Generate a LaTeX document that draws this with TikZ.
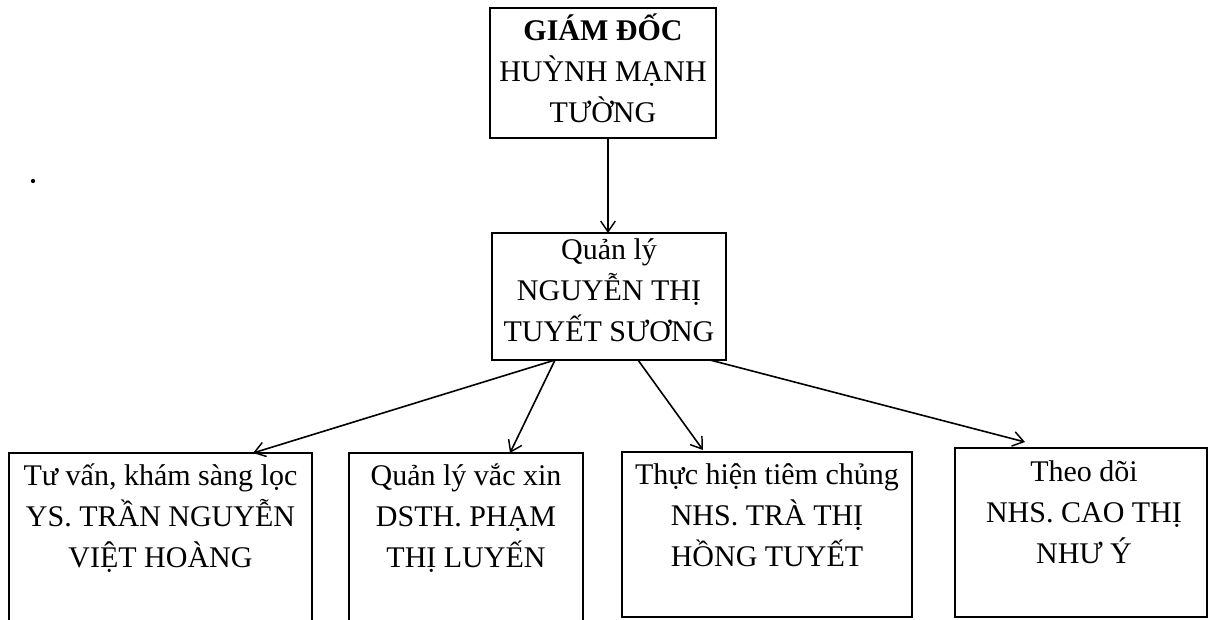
\documentclass[tikz,border=0pt]{standalone}
\usepackage{fontspec}
\setmainfont{Liberation Serif}
\usetikzlibrary{arrows.meta}
\tikzset{
  box/.style={draw=black, line width=1.5pt, rectangle, inner sep=0pt, outer sep=0pt, anchor=north west},
  txt/.style={align=center, inner sep=0pt, anchor=base, font=\fontsize{22.5pt}{30.75pt}\selectfont},
  conn/.style={draw=black, line width=1.2pt, -{Straight Barb[length=8pt,width=11pt,line width=1.1pt]}}
}
\begin{document}
\begin{tikzpicture}[x=0.75pt,y=-0.75pt]
\useasboundingbox (0,0) rectangle (1208,619);
% boxes
\node[box, minimum width={226*0.75pt}, minimum height={130*0.75pt}] (gd) at (490,8) {};
\node[box, minimum width={234*0.75pt}, minimum height={127*0.75pt}] (ql) at (492,233) {};
\node[box, minimum width={303*0.75pt}, minimum height={200*0.75pt}] (a) at (9,453) {};
\node[box, minimum width={234*0.75pt}, minimum height={200*0.75pt}] (b) at (349,453) {};
\node[box, minimum width={290*0.75pt}, minimum height={165*0.75pt}] (c) at (622,452) {};
\node[box, minimum width={252*0.75pt}, minimum height={169*0.75pt}] (d) at (955,448) {};
% texts (anchor base = baseline of last line)
\node[txt] (gdt) at (603,122) {\textbf{GIÁM ĐỐC}\\HUỲNH MẠNH\\TƯỜNG};
\node[txt] (qlt) at (609,341) {Quản lý\\NGUYỄN THỊ\\TUYẾT SƯƠNG};
\node[txt] (at) at (160.5,567) {Tư vấn, khám sàng lọc\\YS. TRẦN NGUYỄN\\VIỆT HOÀNG};
\node[txt] (bt) at (466,567) {Quản lý vắc xin\\DSTH. PHẠM\\THỊ LUYẾN};
\node[txt] (ct) at (767,566) {Thực hiện tiêm chủng\\NHS. TRÀ THỊ\\HỒNG TUYẾT};
\node[txt] (dt) at (1084,563) {Theo dõi\\NHS. CAO THỊ\\NHƯ Ý};
% stray dot
\fill[black] (33,181) circle (1.6pt);
% connectors
\draw[conn] ([xshift=3.75pt]gd.south) -- ([xshift=-0.75pt]ql.north);
\draw[conn] ([xshift=-40.5pt]ql.south) -- ([xshift=69.4pt]a.north);
\draw[conn] ([xshift=-40.5pt]ql.south) -- ([xshift=33pt]b.north);
\draw[conn] ([xshift=21.75pt]ql.south) -- ([xshift=-48pt,yshift=1.5pt]c.north);
\draw[conn] ([xshift=75.75pt]ql.south) -- ([xshift=-42pt,yshift=4.5pt]d.north);
\end{tikzpicture}
\end{document}
